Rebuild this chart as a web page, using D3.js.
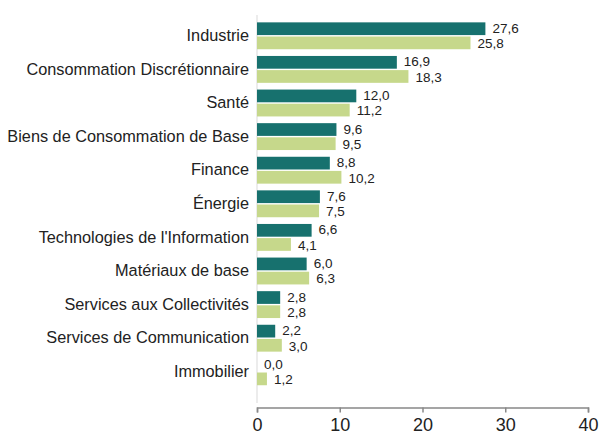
<!DOCTYPE html>
<html><head><meta charset="utf-8">
<script src="https://cdn.jsdelivr.net/npm/d3@7"></script>
<style>body{margin:0;background:#fff}svg{display:block;font-family:"Liberation Sans",Arial,sans-serif}</style>
</head><body>
<svg id="c" width="599" height="437"></svg>
<script>
const categories = ["Industrie","Consommation Discrétionnaire","Santé","Biens de Consommation de Base","Finance","Énergie","Technologies de l'Information","Matériaux de base","Services aux Collectivités","Services de Communication","Immobilier"];
const series1 = [27.6,16.9,12.0,9.6,8.8,7.6,6.6,6.0,2.8,2.2,0.0];
const series2 = [25.8,18.3,11.2,9.5,10.2,7.5,4.1,6.3,2.8,3.0,1.2];
const xTicks = [0,10,20,30,40];

const svg = d3.select("#c");
const x = d3.scaleLinear().domain([0,40]).range([257,588]);
const y = d3.scaleBand().domain(categories).range([19,388.6]).paddingInner(0.2).paddingOuter(0.1);
const sub = d3.scaleBand().domain([0,1]).range([0,y.bandwidth()]).paddingInner(0.1);
const colors = ["#17716e","#c6d88b"];
const fmt = v => v.toFixed(1).replace(".",",");

svg.append("line").attr("x1",x(0)).attr("x2",x(0)).attr("y1",15).attr("y2",403)
  .attr("stroke","#d9d9d9").attr("stroke-width",1);

const g = svg.append("g");
categories.forEach((c,i)=>{
  [series1[i],series2[i]].forEach((v,k)=>{
    const yy = y(c)+sub(k);
    g.append("rect").attr("x",x(0)).attr("y",yy).attr("width",x(v)-x(0)).attr("height",sub.bandwidth()).attr("fill",colors[k]);
    g.append("text").attr("x",x(v)+7).attr("y",yy+sub.bandwidth()/2 + (k===0?-0.7:0.7)).attr("dy","0.35em")
      .attr("font-size",13.5).attr("fill","#222").text(fmt(v));
  });
  g.append("text").attr("x",249).attr("y",y(c)+y.bandwidth()/2-0.5).attr("dy","0.35em")
    .attr("text-anchor","end").attr("font-size",16.3).attr("fill","#222").text(c);
});

const ax = svg.append("g").attr("transform","translate(0,407.5)")
  .call(d3.axisBottom(x).tickValues(xTicks).tickSize(5).tickPadding(6).tickSizeOuter(5));
ax.select(".domain").attr("stroke","#888").attr("stroke-width",1.5);
ax.selectAll(".tick line").attr("stroke","#888").attr("stroke-width",1.5);
ax.selectAll(".tick text").attr("font-size",18).attr("fill","#222").attr("font-family","Liberation Sans, Arial, sans-serif");
</script>
</body></html>
